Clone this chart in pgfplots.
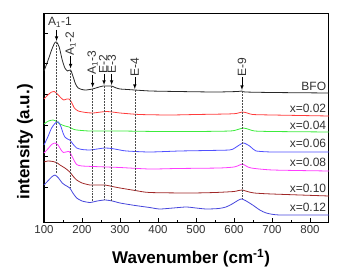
\documentclass[border=0pt]{standalone}
\usepackage{pgfplots}
\pgfplotsset{compat=1.18}
\usepackage{fontspec}
\setmainfont{Liberation Sans}
\definecolor{cblack}{RGB}{40,40,40}
\definecolor{cred}{RGB}{255,60,60}
\definecolor{cgreen}{RGB}{60,235,60}
\definecolor{cblue}{RGB}{80,80,255}
\definecolor{cmag}{RGB}{255,60,255}
\definecolor{cbrown}{RGB}{160,40,40}
\definecolor{cblueb}{RGB}{70,70,220}
\definecolor{txt}{RGB}{50,50,50}
\begin{document}
\begin{tikzpicture}
\begin{axis}[
  scale only axis, width=285pt, height=208pt,
  xmin=100, xmax=850, ymin=0, ymax=208,
  xtick={100,200,...,800}, minor x tick num=1,
  ytick={35,66,97,128,159,189}, yticklabels={},
  tick pos=left, tick align=inside,
  major tick length=4pt, minor tick length=2.5pt,
  axis line style={line width=1pt},
  every tick/.style={line width=0.8pt, black},
  /pgf/number format/assume math mode=true,
  tick label style={font=\fontsize{11.5}{13}\selectfont, text=txt},
  xlabel={\textbf{Wavenumber (cm\textsuperscript{-1})}},
  ylabel={\textbf{intensity (a.u.)}},
  label style={font=\fontsize{17}{19}\selectfont},
  xlabel style={at={(axis description cs:0.516,-0.173)}, anchor=center},
  ylabel style={at={(axis description cs:-0.067,0.385)}, anchor=center},
  clip=false,
  every axis plot/.append style={line width=0.8pt, smooth, tension=0.4, mark=none},
]
% BFO
\addplot[cblack] coordinates {(100,151) (110,161) (120,172) (128,179) (133,180) (140,175) (148,162) (155,154) (162,151) (170,152) (176,146) (183,138) (190,134) (200,132.5) (210,132) (228,133) (245,135) (256,136) (270,136) (278,136) (290,134) (300,133) (320,132.5) (339,132) (380,131) (450,130.5) (550,130) (610,130.5) (620,131) (630,130) (700,129.5) (850,129)};
% x=0.02
\addplot[cred] coordinates {(100,123) (110,127) (120,130) (127,130.5) (135,128) (145,124) (152,122) (160,123) (166,123) (172,120) (180,114) (190,111) (210,109.5) (229,109) (250,110) (265,110.5) (280,110) (300,109) (352,107.5) (431,107) (500,107.5) (580,108) (606,108.5) (622,110) (635,109) (649,107.5) (701,107) (850,106)};
% x=0.04
\addplot[cgreen] coordinates {(100,98) (112,101) (124,102) (133,100.5) (142,98) (155,96) (166,95) (176,93) (186,92) (220,91) (300,91) (400,90.5) (500,90.5) (590,91) (610,92.5) (625,94) (640,92.5) (654,91) (700,90.5) (850,90)};
% x=0.06
\addplot[cblue] coordinates {(100,77) (110,85) (120,94) (130,99) (138,100) (145,95) (150,89) (155,85) (162,83) (168,82) (176,78) (186,74) (200,72.5) (221,72) (240,73) (260,74) (278,73.5) (300,72) (317,71) (378,70) (457,71) (530,71.5) (588,72) (600,73.5) (610,76) (625,79) (641,76) (650,73) (658,71) (702,70) (850,70)};
% x=0.08
\addplot[cmag] coordinates {(100,69) (110,73) (120,77.5) (129,79) (137,77) (145,72) (151,69.5) (158,70) (166,70.5) (172,67) (180,61) (186,57.5) (200,56) (265,55) (300,54.5) (378,53) (450,53.5) (562,54) (600,55) (612,56.5) (622,58) (632,56) (645,54) (702,52) (850,51)};
% x=0.10
\addplot[cbrown] coordinates {(100,60) (110,61) (124,60.5) (135,59) (142,57) (155,54) (168,50) (176,46) (186,42) (200,39) (221,37) (240,37) (260,37) (280,35.5) (300,34) (340,31.5) (378,29.5) (483,29) (550,29.5) (600,30.5) (612,31.5) (622,32) (635,30.5) (653,29) (700,28) (850,26)};
% x=0.12
\addplot[cblueb] coordinates {(100,37) (110,41) (120,45) (129,47) (138,44) (148,39) (155,37) (162,35.5) (168,34) (176,29) (186,24) (200,21) (221,19.5) (240,21) (260,22) (280,21) (300,19) (340,16.5) (378,14.5) (404,13) (440,14) (474,15) (500,14) (527,13) (560,13.5) (579,15) (595,18) (610,21.5) (619,23) (630,21.5) (649,17) (668,12) (685,9) (720,7) (850,7)};
% dotted guide lines
\draw[densely dotted, line width=0.5pt, black!70] (axis cs:133,180) -- (axis cs:133,49);
\draw[densely dotted, line width=0.5pt, black!70] (axis cs:170,152) -- (axis cs:170,34);
\draw[densely dotted, line width=0.5pt, black!70] (axis cs:228,133) -- (axis cs:228,21);
\draw[densely dotted, line width=0.5pt, black!70] (axis cs:258,136) -- (axis cs:258,22);
\draw[densely dotted, line width=0.5pt, black!70] (axis cs:278,136) -- (axis cs:278,21);
\draw[densely dotted, line width=0.5pt, black!70] (axis cs:339,132) -- (axis cs:339,30);
\draw[densely dotted, line width=0.5pt, black!70] (axis cs:621,131) -- (axis cs:621,23);
% arrows
\draw[-latex, line width=0.6pt] (axis cs:133,192) -- (axis cs:133,181);
\draw[-latex, line width=0.6pt] (axis cs:170,166) -- (axis cs:170,153.5);
\draw[-latex, line width=0.6pt] (axis cs:228,147) -- (axis cs:228,134.5);
\draw[-latex, line width=0.6pt] (axis cs:258,148) -- (axis cs:258,137);
\draw[-latex, line width=0.6pt] (axis cs:278,148) -- (axis cs:278,137);
\draw[-latex, line width=0.6pt] (axis cs:339,145) -- (axis cs:339,133);
\draw[-latex, line width=0.6pt] (axis cs:621,145) -- (axis cs:621,132);
% peak labels
\tikzset{pk/.style={font=\fontsize{12}{13}\selectfont, text=txt, inner sep=0.5pt}}
\node[pk, anchor=center] at (axis cs:142,200) {A\textsubscript{1}-1};
\node[pk, rotate=90, anchor=west] at (axis cs:170,166) {A\textsubscript{1}-2};
\node[pk, rotate=90, anchor=west] at (axis cs:228,147) {A\textsubscript{1}-3};
\node[pk, rotate=90, anchor=west] at (axis cs:256,148) {E-2};
\node[pk, rotate=90, anchor=west] at (axis cs:278,148) {E-3};
\node[pk, rotate=90, anchor=west] at (axis cs:339,145) {E-4};
\node[pk, rotate=90, anchor=west] at (axis cs:621,145) {E-9};
% series labels
\tikzset{sl/.style={font=\fontsize{12}{13}\selectfont, text=txt, inner sep=0pt, anchor=east}}
\node[sl] at (axis cs:843,136) {BFO};
\node[sl] at (axis cs:843,114) {x=0.02};
\node[sl] at (axis cs:843,97) {x=0.04};
\node[sl] at (axis cs:843,79) {x=0.06};
\node[sl] at (axis cs:843,60) {x=0.08};
\node[sl] at (axis cs:843,34) {x=0.10};
\node[sl] at (axis cs:843,15) {x=0.12};
\end{axis}
\pgfresetboundingbox
\path[use as bounding box] (-44pt,-53pt) rectangle (300pt,222pt);
\end{tikzpicture}
\end{document}
